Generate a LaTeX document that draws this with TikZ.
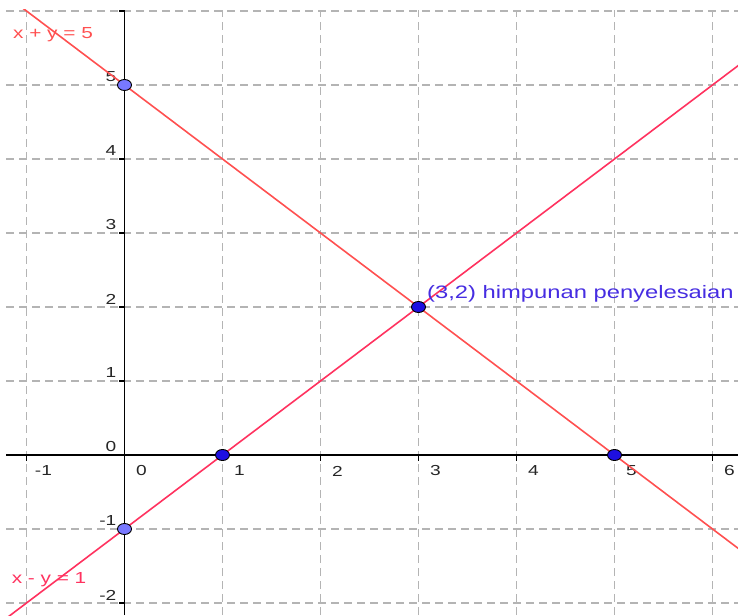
\documentclass[tikz,border=0pt]{standalone}
\usepackage{fontspec}
\setmainfont{Liberation Sans}
\usetikzlibrary{shapes.geometric}
\definecolor{gridgray}{RGB}{180,180,180}
\definecolor{lineone}{RGB}{255,80,80}
\definecolor{linetwo}{RGB}{255,50,95}
\definecolor{ptlight}{RGB}{120,120,255}
\definecolor{ptdark}{RGB}{30,15,225}
\definecolor{solblue}{RGB}{70,45,225}
\begin{document}
\begin{tikzpicture}[x=98pt,y=74pt,
  gridline/.style={gridgray, line width=1.1pt, dash pattern=on 8pt off 5pt},
  axisline/.style={black, line width=1.6pt},
  tickmark/.style={black, line width=1.2pt},
  ticklab/.style={font=\fontsize{14.5}{16}\selectfont, text=black!85, inner sep=0pt},
  eqlab/.style={font=\fontsize{16}{18}\selectfont, inner sep=0pt},
  graphline/.style={line width=1.6pt},
  pt/.style={ellipse, draw=black, line width=0.9pt, minimum width=14pt, minimum height=11pt, inner sep=0pt}]
\useasboundingbox (-1.2704,-2.1622) rectangle (6.2602,6.1486);
\clip (-1.209,-2.1622) rectangle (6.2602,6.0135);
% grid
\foreach \i in {-1,...,6} \draw[gridline] (\i,-2.1622) -- (\i,6.0135);
\foreach \j in {-2,...,6} \draw[gridline] (-1.209,\j) -- (6.2602,\j);
% axes
\coordinate (xa) at (-1.209,0);
\coordinate (xb) at (6.2602,0);
\coordinate (ya) at (0,-2.1622);
\coordinate (yb) at (0,6.0135);
\draw[axisline] (xa) -- (xb);
\draw[axisline] (ya) -- (yb);
% ticks
\foreach \i in {-1,...,6} \draw[tickmark] (\i,0) -- ++(0,-6pt);
\foreach \j in {-2,...,6} \draw[tickmark] (0,\j) -- ++(-5pt,0);
% tick labels
\foreach \i in {-1,...,6} \node[ticklab] (xl\i) at ([xshift=17pt,yshift=-16pt]\i,0) {\scalebox{1.32}[1]{\i}};
\foreach \j in {-2,...,5} \node[ticklab, anchor=east] (yl\j) at ([xshift=-8pt,yshift=8pt]0,\j) {\scalebox{1.32}[1]{\j}};
% lines
\coordinate (Ls) at (-1.4,6.4);
\coordinate (Le) at (6.6,-1.6);
\coordinate (Ms) at (-1.4,-2.4);
\coordinate (Me) at (6.6,5.6);
\draw[graphline, lineone] (Ls) -- (Le);
\draw[graphline, linetwo] (Ms) -- (Me);
% labels
\node[eqlab, text=lineone] (lab1) at (-0.7296,5.676) {\scalebox{1.3}[1]{x + y = 5}};
\node[eqlab, text=linetwo] (lab2) at (-0.770,-1.689) {\scalebox{1.3}[1]{x - y = 1}};
\node[anchor=base west, text=solblue, font=\fontsize{18}{20}\selectfont, inner sep=0pt] (sol) at (3.087,2.12) {\scalebox{1.32}[1]{(3,2) himpunan penyelesaian}};
% points
\node[pt, fill=ptlight] (A) at (0,5) {};
\node[pt, fill=ptlight] (B) at (0,-1) {};
\node[pt, fill=ptdark] (C) at (1,0) {};
\node[pt, fill=ptdark] (D) at (5,0) {};
\node[pt, fill=ptdark] (E) at (3,2) {};
\end{tikzpicture}
\end{document}
